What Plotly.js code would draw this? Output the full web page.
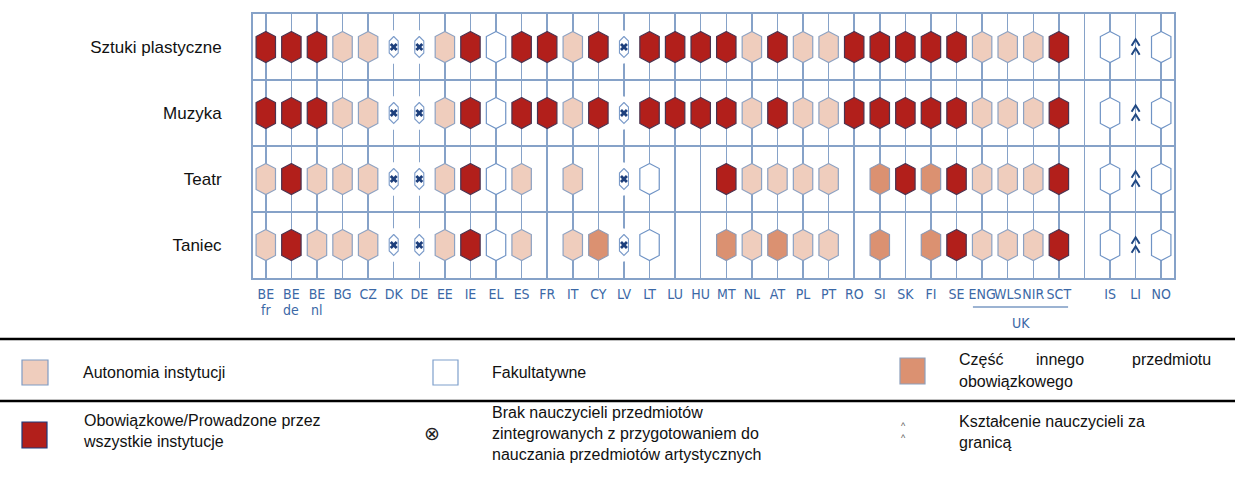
<!DOCTYPE html>
<html>
<head>
<meta charset="utf-8">
<script src="https://cdn.plot.ly/plotly-3.0.1.min.js"></script>
<style>html,body{margin:0;padding:0;background:#fff;}#chart{width:1235px;height:486px;}</style>
</head>
<body>
<div id="chart"></div>
<script>
// ---- data ----
const countries = ['BE','BE','BE','BG','CZ','DK','DE','EE','IE','EL','ES','FR','IT','CY','LV','LT','LU','HU','MT','NL','AT','PL','PT','RO','SI','SK','FI','SE','ENG','WLS','NIR','SCT','','IS','LI','NO'];
const subLabels = ['fr','de','nl'];
const ukGroup = ['ENG','WLS','NIR','SCT'];
const subjects = ['Sztuki plastyczne','Muzyka','Teatr','Taniec'];
// A = Autonomia instytucji, O = Obowiązkowe, F = Fakultatywne, C = Część innego przedmiotu, X = Brak nauczycieli, ^ = Kształcenie za granicą
const sztukiPlastyczne = ['O','O','O','A','A','X','X','A','O','F','O','O','A','O','X','O','O','O','O','A','O','A','A','O','O','O','O','O','A','A','A','O','','F','^','F'];
const muzyka           = ['O','O','O','A','A','X','X','A','O','F','O','O','A','O','X','O','O','O','O','A','O','A','A','O','O','O','O','O','A','A','A','O','','F','^','F'];
const teatr            = ['A','O','A','A','A','X','X','A','O','F','A','', 'A','', 'X','F','', '', 'O','A','A','A','A','', 'C','O','C','O','A','A','A','O','','F','^','F'];
const taniec           = ['A','O','A','A','A','X','X','A','O','F','A','', 'A','C','X','F','', '', 'C','A','C','A','A','', 'C','', 'C','O','A','A','A','O','','F','^','F'];
const statusRows = [sztukiPlastyczne, muzyka, teatr, taniec];
const legendLabels = {
  A: 'Autonomia instytucji',
  F: 'Fakultatywne',
  C: ['Część','innego','przedmiotu','obowiązkowego'],
  O: 'Obowiązkowe/Prowadzone przez<br>wszystkie instytucje',
  X: 'Brak nauczycieli przedmiotów<br>zintegrowanych z przygotowaniem do<br>nauczania przedmiotów artystycznych',
  U: 'Kształcenie nauczycieli za<br>granicą'
};

// ---- geometry / styles ----
const W = 1235, H = 486;
const L = 253, R = 1174, T = 14, B = 278;
const PW = R - L, PH = B - T;
const nCols = countries.length, nRows = subjects.length;
const xu = PW / nCols, yu = PH / nRows;
const GRID = '#86a2c8';
const styles = {
  A: {fill: '#efcdbd', line: '#8da2c2'},
  O: {fill: '#b21f1b', line: '#4b3350'},
  F: {fill: '#ffffff', line: '#6f93c5'},
  C: {fill: '#db9171', line: '#8e9ab5'}
};
const px = v => (v - L) / PW;
const py = v => (B - v) / PH;

function hex(cx, cy, hwPx, hhPx, shPx, xs, ys) {
  const hw = hwPx / xu, hh = hhPx / yu, sh = shPx / yu;
  xs.push(cx, cx + hw, cx + hw, cx, cx - hw, cx - hw, cx, null);
  ys.push(cy - hh, cy - sh, cy + sh, cy + hh, cy + sh, cy - sh, cy - hh, null);
}

const traces = [];
['A', 'O', 'F', 'C'].forEach(code => {
  const xs = [], ys = [];
  statusRows.forEach((row, r) => row.forEach((s, c) => { if (s === code) hex(c, r, 9.7, 15.5, 10.5, xs, ys); }));
  traces.push({type: 'scatter', mode: 'lines', x: xs, y: ys, fill: 'toself', fillcolor: styles[code].fill,
    line: {color: styles[code].line, width: 1.2}, hoverinfo: 'skip', showlegend: false});
});
// X cells: white gap + small oval + cross
{
  const bx = [], by = [], ox = [], oy = [], mx = [], my = [];
  statusRows.forEach((row, r) => row.forEach((s, c) => {
    if (s === 'X') { hex(c, r, 5, 17, 12, bx, by); hex(c, r, 4.5, 10.5, 6, ox, oy); mx.push(c); my.push(r); }
  }));
  traces.push({type: 'scatter', mode: 'lines', x: bx, y: by, fill: 'toself', fillcolor: '#ffffff', line: {color: '#ffffff', width: 0}, hoverinfo: 'skip', showlegend: false});
  traces.push({type: 'scatter', mode: 'lines', x: ox, y: oy, fill: 'toself', fillcolor: '#ffffff', line: {color: '#7b9bc9', width: 1.1}, hoverinfo: 'skip', showlegend: false});
  traces.push({type: 'scatter', mode: 'markers', x: mx, y: my, marker: {symbol: 'x', size: 7, color: '#1d3f7c', line: {width: 0}}, hoverinfo: 'skip', showlegend: false});
}
// ^ cells: double chevrons
{
  const cx = [], cy = [];
  statusRows.forEach((row, r) => row.forEach((s, c) => {
    if (s === '^') {
      [-4.5, 4.5].forEach(off => {
        const hw = 4 / xu, top = (off - 3.2) / yu, bot = (off + 3.2) / yu;
        cx.push(c - hw, c, c + hw, null); cy.push(r + bot, r + top, r + bot, null);
      });
    }
  }));
  traces.push({type: 'scatter', mode: 'lines', x: cx, y: cy, line: {color: '#1f4782', width: 2}, hoverinfo: 'skip', showlegend: false});
}

// ---- layout ----
const xFont = {family: 'Liberation Sans Narrow, DejaVu Sans Condensed, Arial Narrow, sans-serif', size: 14, color: '#3b68a6'};
const txtFont = {family: 'Liberation Sans, Arial, sans-serif', size: 16, color: '#111111'};
const rowFont = {family: 'Liberation Sans, Arial, sans-serif', size: 17, color: '#111111'};
const shapes = [], annotations = [];
// row separators
for (let r = 1; r < nRows; r++) {
  shapes.push({type: 'line', xref: 'paper', yref: 'y', x0: 0, x1: 1, y0: r - 0.5, y1: r - 0.5, line: {color: GRID, width: 2}, layer: 'below'});
}
// sub labels
subLabels.forEach((s, i) => annotations.push({xref: 'x', yref: 'paper', x: i, y: py(310), text: s, showarrow: false, font: xFont, xanchor: 'center', yanchor: 'middle'}));
// UK group
const ukIdx = ukGroup.map(c => countries.indexOf(c));
const u0 = Math.min(...ukIdx), u1 = Math.max(...ukIdx);
shapes.push({type: 'line', xref: 'x', yref: 'paper', x0: u0 - 0.36, x1: u1 + 0.36, y0: py(307), y1: py(307), line: {color: '#3b68a6', width: 1.2}});
annotations.push({xref: 'x', yref: 'paper', x: (u0 + u1) / 2, y: py(323), text: 'UK', showarrow: false, font: xFont, xanchor: 'center', yanchor: 'middle'});
// legend lines
[339, 401].forEach(yy => shapes.push({type: 'line', xref: 'paper', yref: 'paper', x0: px(0), x1: px(W), y0: py(yy), y1: py(yy), line: {color: '#000', width: 2.5}}));
// legend swatches
function rect(x0, y0, x1, y1, fill, line) {
  shapes.push({type: 'rect', xref: 'paper', yref: 'paper', x0: px(x0), x1: px(x1), y0: py(y1), y1: py(y0), fillcolor: fill, line: {color: line, width: 1.2}});
}
rect(22, 360, 48, 385, styles.A.fill, '#7f9bc4');
rect(433, 360, 458, 385, '#ffffff', '#7fa0cc');
rect(900, 358, 925, 384, styles.C.fill, '#8ea0bb');
rect(22, 422, 47, 448, styles.O.fill, '#1c3a7e');
function ann(x, y, text, xanchor, extra) {
  annotations.push(Object.assign({xref: 'paper', yref: 'paper', x: px(x), y: py(y), text: text, showarrow: false, font: txtFont, xanchor: xanchor || 'left', yanchor: 'middle', align: 'left'}, extra || {}));
}
ann(81, 372, legendLabels.A);
ann(490, 372, legendLabels.F);
ann(957, 359, legendLabels.C[0]);
ann(1060, 359, legendLabels.C[1], 'center');
ann(1213, 359, legendLabels.C[2], 'right');
ann(957, 381, legendLabels.C[3]);
ann(81, 431, legendLabels.O);
ann(432, 433, '⊗', 'center', {font: {family: 'DejaVu Sans, sans-serif', size: 19, color: '#222'}});
ann(490, 433, legendLabels.X);
ann(903, 432, '^<br>^', 'center', {font: {family: 'Liberation Sans, sans-serif', size: 9, color: '#555'}, align: 'center'});
ann(957, 432, legendLabels.U);

const layout = {
  width: W, height: H,
  margin: {l: L, r: W - R, t: T, b: H - B, pad: 0},
  paper_bgcolor: '#fff', plot_bgcolor: '#fff',
  showlegend: false,
  xaxis: {range: [-0.5, nCols - 0.5], tickmode: 'array', tickvals: countries.map((c, i) => i), ticktext: countries,
    showgrid: true, gridcolor: GRID, gridwidth: 1.5, zeroline: false,
    showline: true, mirror: true, linecolor: GRID, linewidth: 2,
    ticks: 'outside', ticklen: 2, tickcolor: 'rgba(0,0,0,0)', tickfont: xFont, tickangle: 0, fixedrange: true},
  yaxis: {range: [nRows - 0.5, -0.5], tickmode: 'array', tickvals: subjects.map((s, i) => i), ticktext: subjects,
    showgrid: false, zeroline: false, showline: true, mirror: true, linecolor: GRID, linewidth: 2,
    ticks: 'outside', ticklen: 26, tickcolor: 'rgba(0,0,0,0)', tickfont: rowFont, fixedrange: true},
  shapes: shapes, annotations: annotations
};
Plotly.newPlot('chart', traces, layout, {displayModeBar: false, staticPlot: true});
</script>
</body>
</html>
